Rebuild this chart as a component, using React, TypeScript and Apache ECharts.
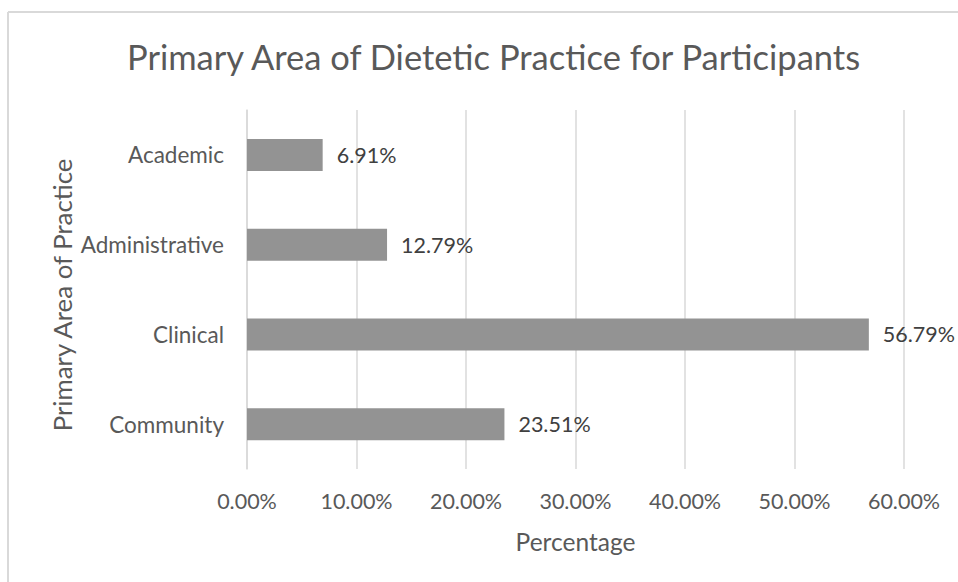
import React, { useEffect, useRef } from "react";
import * as echarts from "echarts";

const categories = ["Community", "Clinical", "Administrative", "Academic"];
const values = [0.2351, 0.5679, 0.1279, 0.0691];
const xTicks = [0, 0.1, 0.2, 0.3, 0.4, 0.5, 0.6];
const titleText = "Primary Area of Dietetic Practice for Participants";
const xName = "Percentage";
const yName = "Primary Area of Practice";

const FONT = "Lato";

export default function App() {
  const ref = useRef<HTMLDivElement>(null);
  useEffect(() => {
    const chart = echarts.init(ref.current!, null, { renderer: "svg" });
    chart.setOption({
      animation: false,
      backgroundColor: "#ffffff",
      textStyle: { fontFamily: FONT },
      title: {
        text: titleText,
        left: 122,
        top: 34,
        textStyle: { fontFamily: FONT, fontSize: 34.5, fontWeight: "normal", color: "#595959" },
      },
      graphic: [
        { type: "line", shape: { x1: 8, y1: 12, x2: 958, y2: 12 }, style: { stroke: "#d9d9d9", lineWidth: 2 } },
        { type: "line", shape: { x1: 8, y1: 12, x2: 8, y2: 582 }, style: { stroke: "#d9d9d9", lineWidth: 2 } },
        {
          type: "text",
          x: 62,
          y: 295,
          rotation: Math.PI / 2,
          style: {
            text: yName,
            fontFamily: FONT,
            fontSize: 25.8,
            fill: "#595959",
            align: "center",
            verticalAlign: "middle",
          },
        },
      ],
      grid: { left: 247, right: 54, top: 110, height: 359 },
      xAxis: {
        type: "value",
        min: xTicks[0],
        max: xTicks[xTicks.length - 1],
        interval: 0.1,
        name: xName,
        nameLocation: "middle",
        nameGap: 60,
        nameTextStyle: { fontFamily: FONT, fontSize: 24.5, color: "#595959" },
        axisLine: { show: false },
        axisTick: { show: false },
        splitLine: { show: true, lineStyle: { color: "#d9d9d9", width: 1.5 } },
        axisLabel: {
          formatter: (v: number) => (v * 100).toFixed(2) + "%",
          fontFamily: FONT,
          fontSize: 21.5,
          color: "#595959",
          margin: 21,
        },
      },
      yAxis: {
        type: "category",
        data: categories,
        axisLine: { show: true, lineStyle: { color: "#d9d9d9", width: 1.5 } },
        axisTick: { show: false },
        axisLabel: { fontFamily: FONT, fontSize: 22.5, color: "#595959", margin: 23 },
      },
      series: [
        {
          type: "bar",
          data: values,
          barWidth: 32,
          itemStyle: { color: "#939393" },
          label: {
            show: true,
            position: "right",
            distance: 14,
            formatter: (p: any) => (p.value * 100).toFixed(2) + "%",
            fontFamily: FONT,
            fontSize: 21.5,
            color: "#404040",
          },
        },
      ],
    });
    return () => chart.dispose();
  }, []);
  return <div ref={ref} style={{ width: 958, height: 582, position: "absolute", left: 0, top: 0 }} />;
}
